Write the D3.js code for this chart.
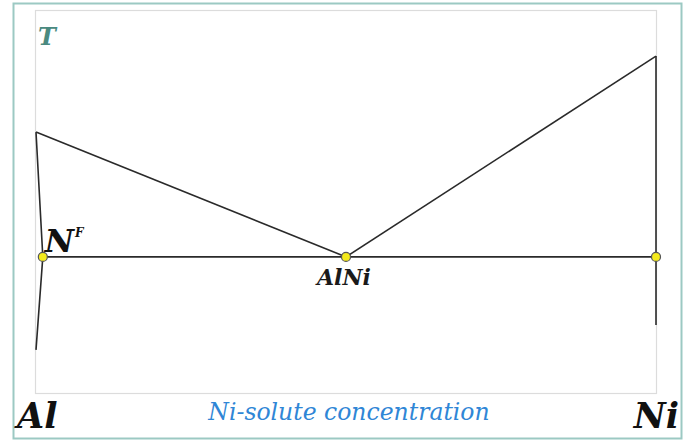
<!DOCTYPE html>
<html>
<head>
<meta charset="utf-8">
<script src="https://cdn.jsdelivr.net/npm/d3@7"></script>
<style>
  html, body { margin: 0; padding: 0; background: #fff; }
  svg { display: block; }
</style>
</head>
<body>
<div id="app"></div>
<script>
// composition x: 0 = Al, 1 = Ni ; temperature T in arbitrary units
const solvusX = [0, 0.011, 0]
const solvusT = [68.2, 35.7, 11.5]
const liquidusLeftX = [0, 0.5]
const liquidusLeftT = [68.2, 35.7]
const liquidusRightX = [0.5, 1]
const liquidusRightT = [35.7, 88]
const niEdgeX = [1, 1]
const niEdgeT = [88, 18]
const isothermX = [0.011, 1]
const isothermT = [35.7, 35.7]
const pointX = [0.011, 0.5, 1]
const pointT = [35.7, 35.7, 35.7]
const endLabels = ['Al', 'Ni']

const config = {
  width: 688,
  height: 441,
  plot: {left: 36, right: 656, top: 10, bottom: 394},
  font: 'DejaVu Serif, serif',
}

const draw = () => {
  const svg = d3
    .select('#app')
    .append('svg')
    .attr('width', config.width)
    .attr('height', config.height)

  const x = d3.scaleLinear().domain([0, 1]).range([config.plot.left, config.plot.right])
  const y = d3.scaleLinear().domain([0, 100]).range([config.plot.bottom, config.plot.top])

  // outer frame
  svg.append('rect')
    .attr('x', 13.5).attr('y', 3.5)
    .attr('width', 668).attr('height', 435)
    .attr('fill', 'none').attr('stroke', '#9cc9c3').attr('stroke-width', 2)

  // plot box
  svg.append('rect')
    .attr('x', 35.5).attr('y', 10.5)
    .attr('width', 621).attr('height', 383)
    .attr('fill', 'none').attr('stroke', '#dcdcdc').attr('stroke-width', 1.2)

  const line = d3.line().x((d) => x(d[0])).y((d) => y(d[1]))
  const curves = [
    [solvusX, solvusT],
    [liquidusLeftX, liquidusLeftT],
    [liquidusRightX, liquidusRightT],
    [niEdgeX, niEdgeT],
    [isothermX, isothermT],
  ]
  svg.selectAll('path.curve')
    .data(curves)
    .join('path')
    .attr('class', 'curve')
    .attr('d', (c) => line(d3.zip(c[0], c[1])))
    .attr('fill', 'none')
    .attr('stroke', '#2a2a2a')
    .attr('stroke-width', 1.6)
    .attr('stroke-linejoin', 'round')

  svg.selectAll('circle.pt')
    .data(d3.zip(pointX, pointT))
    .join('circle')
    .attr('class', 'pt')
    .attr('cx', (d) => x(d[0]))
    .attr('cy', (d) => y(d[1]))
    .attr('r', 4.5)
    .attr('fill', '#f4ea1c')
    .attr('stroke', '#555')
    .attr('stroke-width', 1.2)

  const label = (px, py, txt, size, weight, color) =>
    svg.append('text')
      .attr('x', px).attr('y', py)
      .style('font-family', config.font)
      .style('font-style', 'italic')
      .style('font-size', size + 'px')
      .style('font-weight', weight)
      .attr('fill', color)
      .text(txt)

  label(38, 45, 'T', 24, 'bold', '#4a8a80')

  const nf = label(x(pointX[0]) + 2, y(pointT[0]) - 5, '', 32, 'bold', '#111')
  nf.append('tspan').text('N')
  nf.append('tspan').style('font-size', '12px').attr('dy', -15).attr('dx', 1).text('F')

  label(x(pointX[1]) - 2, y(pointT[1]) + 28, 'AlNi', 22, 'bold', '#1a1a1a')
    .attr('text-anchor', 'middle')

  endLabels.forEach((d, i) => {
    label(i === 0 ? 17 : 679, 428, d, 35, 'bold', '#111')
      .attr('text-anchor', i === 0 ? 'start' : 'end')
  })

  label(349, 420, 'Ni-solute concentration', 23.5, 'normal', '#2f86d6')
    .attr('text-anchor', 'middle')
}
draw()
</script>
</body>
</html>
